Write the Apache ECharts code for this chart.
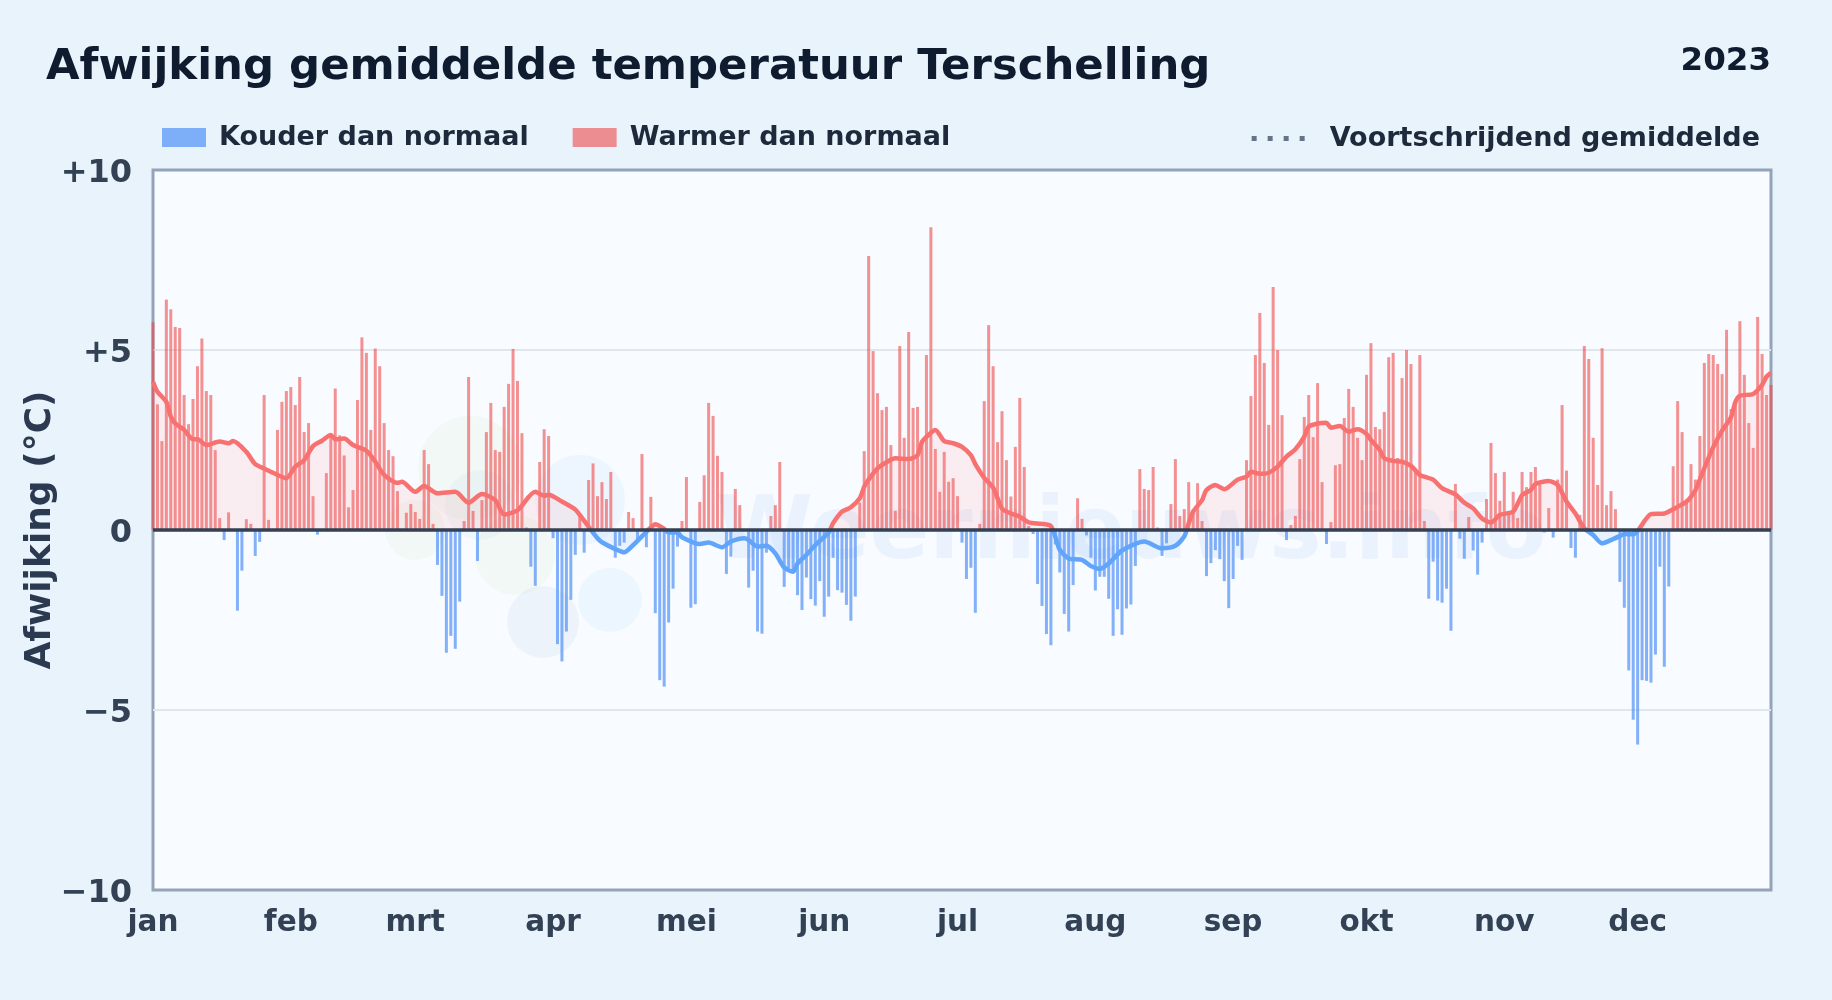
<!DOCTYPE html>
<html><head><meta charset="utf-8">
<style>html,body{margin:0;padding:0;background:#e8f3fc}#c{width:1832px;height:1000px}</style>
<script src="https://cdn.jsdelivr.net/npm/echarts@6/dist/echarts.min.js"></script>
</head><body><div id="c"></div>
<script>
const TITLE = 'Afwijking gemiddelde temperatuur Terschelling';
const YEAR = '2023';
const monthLabels = ['jan','feb','mrt','apr','mei','jun','jul','aug','sep','okt','nov','dec'];
const monthStarts = [0,31,59,90,120,151,181,212,243,273,304,334];
const yTicks = {'10':'+10','5':'+5','0':'0','-5':'\u22125','-10':'\u221210'};

// daily deviation (jan 1 .. dec 31)
const dailyJan = [5.77,3.49,2.47,6.4,6.13,5.64,5.61,3.75,2.94,3.64,4.55,5.32,3.86,3.75,2.22,0.33,-0.28,0.49,0,-2.24,-1.13,0.3,0.17,-0.72,-0.33,3.75,0.28,0,2.78,3.56,3.86];
const dailyFeb = [3.97,3.47,4.25,2.72,2.97,0.94,-0.13,0,1.58,2.6,3.93,2.63,2.07,0.63,1.11,3.61,5.35,4.92,2.78,5.04,4.55,2.97,2.22,2.05,1.08,0,0.48,0.72];
const dailyMrt = [0.5,0.31,2.22,1.83,0.17,-0.97,-1.83,-3.41,-2.94,-3.3,-1.99,0.25,4.25,0.53,-0.86,0.83,2.72,3.53,2.22,2.17,3.42,4.06,5.03,4.14,2.69,0.07,-1.02,-1.55,1.89,2.8,2.61];
const dailyApr = [-0.23,-3.17,-3.65,-2.82,-1.94,-0.69,0.37,-0.63,1.39,1.85,0.94,1.33,0.86,1.61,-0.77,-0.44,-0.35,0.5,0.33,-0.28,2.11,-0.48,0.92,-2.31,-4.17,-4.35,-2.57,-1.63,-0.46,0.25];
const dailyMei = [1.47,-2.16,-2.06,0.78,1.52,3.53,3.17,2.06,1.61,-1.22,-0.74,1.14,0.69,0,-1.6,-1.13,-2.82,-2.88,-0.63,0.39,0.69,1.89,-1.58,-1.06,-1.16,-1.81,-2.22,-1.32,-1.92,-2.1,-1.42];
const dailyJun = [-2.41,-1.85,-0.77,-1.67,-1.74,-2.08,-2.52,-1.85,0.76,2.19,7.61,4.97,3.8,3.33,3.42,2.36,0.53,5.11,2.56,5.5,3.39,3.42,2.5,4.86,8.41,2.25,1.06,2.17,1.34,1.44];
const dailyJul = [0.94,-0.35,-1.36,-1.05,-2.3,0.17,3.58,5.69,4.55,2.44,3.3,1.94,0.93,2.31,3.67,1.75,0.11,-0.11,-1.5,-2.11,-2.89,-3.2,-0.4,-1.18,-2.33,-2.82,-1.53,0.88,0.31,-0.15,-0.77];
const dailyAug = [-1.68,-1.3,-1.3,-1.91,-2.94,-2.2,-2.91,-2.18,-2.07,-1,1.69,1.14,1.11,1.75,0.07,-0.72,-0.37,0.72,1.97,0.39,0.58,1.33,0.56,1.3,0.25,-1.28,-0.92,-0.56,-0.81,-1.42,-2.17];
const dailySep = [-1.36,-0.44,-0.83,1.94,3.72,4.86,6.03,4.64,2.92,6.75,5,3.19,-0.28,0.14,0.39,1.97,3.14,3.75,2.58,4.08,1.33,-0.39,0.22,1.8,1.83,3.11,3.92,3.42,2.56,1.94];
const dailyOkt = [4.31,5.19,2.86,2.8,3.28,4.8,4.92,2,4.22,5,4.61,1.7,4.86,0.25,-1.91,-0.88,-1.96,-2.02,-1.63,-2.8,1.28,-0.24,-0.8,0.36,-0.57,-1.24,-0.35,0.86,2.42,1.58,0.81];
const dailyNov = [1.61,0.51,1.06,0.33,1.61,1.19,1.61,1.75,1.25,-0.07,0.61,-0.21,1.4,3.47,1.65,-0.5,-0.77,0.42,5.11,4.75,2.56,1.25,5.05,0.69,1.08,0.58,-1.44,-2.16,-3.9,-5.27];
const dailyDec = [-5.96,-4.17,-4.19,-4.24,-3.46,-1.02,-3.8,-1.57,1.77,3.58,2.72,0.8,1.83,1.4,2.61,4.64,4.89,4.86,4.61,4.33,5.56,3.36,3.58,5.8,4.31,2.97,2.28,5.92,4.89,3.75,4.03];

// moving average, [day of year, value]
const movingAvg = [[0,4.12],[1,3.84],[3,3.56],[4,3.15],[5,2.96],[7,2.78],[9,2.52],[10,2.52],[12,2.36],[15,2.46],[17,2.41],[18,2.47],[21,2.17],[23,1.83],[25,1.71],[27,1.59],[30,1.44],[32,1.76],[34,1.94],[36,2.33],[38,2.48],[40,2.64],[41,2.52],[43,2.54],[45,2.36],[48,2.2],[50,1.9],[52,1.53],[55,1.31],[56,1.34],[59,1.06],[61,1.22],[64,1.02],[68,1.06],[71,0.76],[74,1.0],[77,0.83],[79,0.43],[82,0.55],[86,1.06],[88,0.95],[89,0.98],[92,0.79],[95,0.57],[96,0.42],[98,0.09],[100,-0.23],[101,-0.34],[104,-0.53],[106,-0.62],[108,-0.42],[111,-0.05],[112,0.07],[113,0.16],[115,0.03],[116,-0.07],[118,-0.07],[119,-0.2],[123,-0.39],[125,-0.35],[128,-0.48],[130,-0.32],[133,-0.23],[134,-0.28],[136,-0.46],[138,-0.44],[140,-0.65],[142,-1.04],[144,-1.16],[145,-0.93],[147,-0.69],[149,-0.42],[152,-0.07],[153,0.19],[155,0.51],[157,0.63],[159,0.88],[160,1.2],[161,1.4],[163,1.71],[165,1.88],[167,1.99],[170,1.97],[172,2.08],[173,2.45],[175,2.7],[176,2.78],[178,2.47],[180,2.41],[182,2.31],[184,2.08],[185,1.83],[187,1.45],[189,1.18],[191,0.6],[193,0.46],[195,0.37],[197,0.21],[200,0.17],[202,0.11],[203,-0.19],[204,-0.55],[206,-0.79],[209,-0.83],[211,-1],[213,-1.08],[215,-0.93],[218,-0.57],[223,-0.32],[227,-0.51],[230,-0.44],[232,-0.18],[233,0.19],[234,0.51],[236,0.83],[237,1.11],[239,1.25],[241,1.13],[244,1.4],[246,1.48],[247,1.62],[249,1.56],[251,1.59],[253,1.76],[255,2.04],[257,2.24],[259,2.59],[260,2.87],[262,2.96],[264,2.98],[265,2.84],[267,2.89],[269,2.73],[271,2.8],[273,2.67],[274,2.5],[276,2.22],[277,1.99],[279,1.92],[281,1.9],[283,1.78],[285,1.53],[286,1.48],[288,1.4],[290,1.16],[293,0.99],[295,0.76],[297,0.6],[299,0.32],[301,0.21],[303,0.42],[306,0.51],[308,0.97],[310,1.11],[311,1.28],[314,1.36],[316,1.25],[318,0.79],[320,0.46],[322,0.05],[324,-0.14],[326,-0.37],[328,-0.28],[330,-0.17],[331,-0.11],[333,-0.12],[334,-0.03],[337,0.44],[340,0.46],[342,0.58],[345,0.79],[347,1.11],[348,1.41],[350,2.02],[351,2.3],[353,2.76],[355,3.13],[356,3.56],[357,3.73],[360,3.78],[362,4.03],[363,4.26],[364,4.37]];

const LEGEND_COLD = 'Kouder dan normaal', LEGEND_WARM = 'Warmer dan normaal', LEGEND_AVG = 'Voortschrijdend gemiddelde';
const AXIS_NAME = 'Afwijking (\u00b0C)';
const WATERMARK = 'Weernieuws.info';

const daily = [].concat(dailyJan,dailyFeb,dailyMrt,dailyApr,dailyMei,dailyJun,dailyJul,dailyAug,dailySep,dailyOkt,dailyNov,dailyDec);
const days = daily.map((_,i)=>{const m=monthStarts.indexOf(i);return m>=0?monthLabels[m]:'d'+i;});
const warm = daily.map(v=>v>0?v:null);
const cold = daily.map(v=>v<0?v:null);

const FONT='"DejaVu Sans"';
const GRID_TOP=170, GRID_BOTTOM=890;
const signGrad=(up,down)=>new echarts.graphic.LinearGradient(0,GRID_TOP,0,GRID_BOTTOM,[
  {offset:0,color:up},{offset:0.5,color:up},{offset:0.5,color:down},{offset:1,color:down}],true);
const blob=(x,y,r,fill)=>({type:'circle',z:1,silent:true,shape:{cx:x,cy:y,r:r},style:{fill:fill}});
const chart=echarts.init(document.getElementById('c'),null,{width:1832,height:1000});
chart.setOption({
  animation:false,
  backgroundColor:'#e8f3fc',
  textStyle:{fontFamily:FONT},
  title:[
    {text:TITLE,left:41,top:41.5,textStyle:{fontFamily:FONT,fontWeight:'bold',fontSize:43.4,color:'#0f1b2e'}},
    {text:YEAR,right:56,top:40,textStyle:{fontFamily:FONT,fontWeight:'bold',fontSize:32.5,color:'#0f1b2e'}}
  ],
  graphic:[
    blob(470,468,52,'rgba(190,225,150,0.09)'),
    blob(415,530,30,'rgba(190,225,150,0.09)'),
    blob(515,555,40,'rgba(190,225,150,0.09)'),
    blob(480,505,35,'rgba(100,150,220,0.05)'),
    blob(580,500,45,'rgba(100,190,250,0.07)'),
    blob(543,622,36,'rgba(100,150,210,0.08)'),
    blob(610,600,32,'rgba(100,190,250,0.08)'),
    {type:'text',z:1,silent:true,x:716,y:535,style:{text:WATERMARK,font:'bold 88px "DejaVu Sans"',fill:'rgba(59,130,246,0.07)',textVerticalAlign:'middle'}}
  ],
  legend:[
    {left:157,top:119,orient:'horizontal',itemWidth:44,itemHeight:19,itemGap:44,
     data:[{name:LEGEND_COLD,icon:'rect'},{name:LEGEND_WARM,icon:'rect'}],
     textStyle:{fontFamily:FONT,fontWeight:'bold',fontSize:27,color:'#1e293b',padding:[2,0,0,8]}},
    {right:67,top:120,itemWidth:57,itemHeight:19,
     data:[{name:LEGEND_AVG,itemStyle:{opacity:0},lineStyle:{color:'#64748b',width:5,type:[5,11],cap:'butt'}}],
     textStyle:{fontFamily:FONT,fontWeight:'bold',fontSize:27,color:'#1e293b',padding:[0,0,0,16]}}
  ],
  grid:{left:153,right:61,top:GRID_TOP,bottom:1000-GRID_BOTTOM,outerBoundsMode:'none',show:true,backgroundColor:'#f8fbff',borderColor:'#94a3b8',borderWidth:3,containLabel:false},
  xAxis:{type:'category',data:days,boundaryGap:false,
    axisLine:{show:false},axisTick:{show:false},splitLine:{show:false},
    axisLabel:{interval:(i)=>monthStarts.includes(i),margin:18,hideOverlap:false,showMinLabel:true,
      formatter:(v)=>monthLabels.includes(v)?v:'',fontFamily:FONT,fontWeight:'bold',fontSize:29.5,color:'#334155'}},
  yAxis:{type:'value',min:-10,max:10,interval:5,name:AXIS_NAME,nameLocation:'middle',nameGap:94.5,nameMoveOverlap:false,
    nameTextStyle:{fontFamily:FONT,fontWeight:'bold',fontSize:36,color:'#2b3a50'},
    axisLine:{show:false},axisTick:{show:false},
    splitLine:{show:true,showMinLine:false,showMaxLine:false,lineStyle:{color:'#e0e7ec',width:2}},
    axisLabel:{margin:21,verticalAlign:'top',lineHeight:7,formatter:(v)=>yTicks[String(v)],fontFamily:FONT,fontWeight:'bold',fontSize:32,color:'#334155'}},
  series:[
    {name:LEGEND_COLD,type:'bar',data:cold,barWidth:3,barGap:'-100%',clip:false,z:3,itemStyle:{color:'rgba(59,130,246,0.62)'}},
    {name:LEGEND_WARM,type:'bar',data:warm,barWidth:3,barGap:'-100%',clip:false,z:3,itemStyle:{color:'rgba(239,68,68,0.58)'},
     markLine:{silent:true,symbol:'none',label:{show:false},z:6,data:[{yAxis:0}],lineStyle:{color:'#334155',width:3.5,type:'solid'}}},
    {name:LEGEND_AVG,type:'line',data:movingAvg,showSymbol:false,smooth:0.25,z:5,clip:true,
     lineStyle:{width:4.5,color:signGrad('#f87171','#60a5fa')},
     areaStyle:{color:signGrad('rgba(248,113,113,0.15)','rgba(96,165,250,0.15)')}}
  ]
});
</script></body></html>
